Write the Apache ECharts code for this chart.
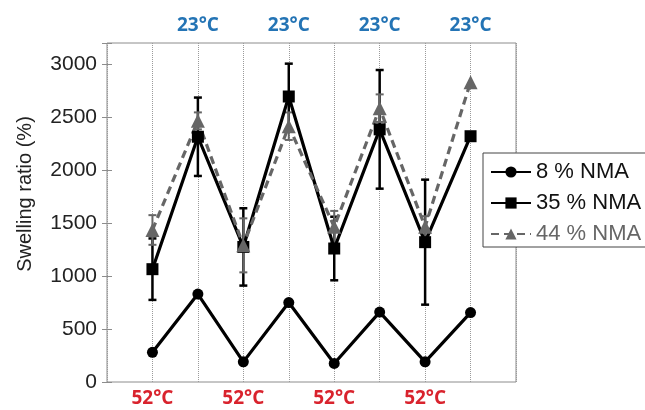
<!DOCTYPE html>
<html>
<head>
<meta charset="utf-8">
<script src="https://cdn.jsdelivr.net/npm/echarts@6/dist/echarts.min.js"></script>
<style>
  html, body { margin: 0; padding: 0; background: #fff; }
  #main { width: 645px; height: 410px; }
</style>
</head>
<body>
<div id="main"></div>
<script>
// measurement cycles, alternating temperature
var xPos  = [1, 2, 3, 4, 5, 6, 7, 8];
var temps = ['52°C', '23°C', '52°C', '23°C', '52°C', '23°C', '52°C', '23°C'];
var hot = '52°C', cold = '23°C';

var seriesNames = ['8 % NMA', '35 % NMA', '44 % NMA'];
var nma8     = [280, 830, 190, 750, 175, 660, 190, 655];
var nma35    = [1065, 2315, 1275, 2695, 1260, 2385, 1320, 2320];
var nma35Err = [290, 370, 365, 310, 300, 560, 590, 0];
var nma44    = [1435, 2465, 1290, 2415, 1465, 2585, 1465, 2830];
var nma44Err = [140, 80, 255, 130, 150, 130, 100, 0];

var yTicks = [0, 500, 1000, 1500, 2000, 2500, 3000];

var grey = '#666666';
var font = 'Liberation Sans, Arial, sans-serif';

function pts(vals) {
    return xPos.map(function (x, i) { return [x, vals[i]]; });
}
function errPts(vals, errs) {
    return xPos.map(function (x, i) { return [x, vals[i], errs[i]]; });
}
function tempLabel(which) {
    return function (v) {
        var i = xPos.indexOf(v);
        return (i >= 0 && temps[i] === which) ? temps[i] : '';
    };
}
function errorBar(color, width) {
    return function (params, api) {
        var x = api.value(0), y = api.value(1), e = api.value(2);
        if (!e) return;
        var top = api.coord([x, y + e]);
        var bot = api.coord([x, y - e]);
        var w = 4;
        var st = { stroke: color, lineWidth: width };
        return {
            type: 'group',
            children: [
                { type: 'line', shape: { x1: top[0], y1: top[1], x2: bot[0], y2: bot[1] }, style: st },
                { type: 'line', shape: { x1: top[0] - w, y1: top[1], x2: top[0] + w, y2: top[1] }, style: st },
                { type: 'line', shape: { x1: bot[0] - w, y1: bot[1], x2: bot[0] + w, y2: bot[1] }, style: st }
            ]
        };
    };
}

var option = {
    animation: false,
    backgroundColor: '#fff',
    grid: {
        left: 107, right: 129, top: 43, bottom: 28,
        show: true, borderColor: '#8c8c8c', borderWidth: 1,
        outerBoundsMode: 'none'
    },
    legend: {
        orient: 'vertical',
        left: 483, top: 153,
        padding: [8, 30, 2, 7],
        itemGap: 9,
        itemWidth: 40, itemHeight: 14,
        backgroundColor: '#fff',
        borderColor: '#444', borderWidth: 1,
        textStyle: { fontFamily: font, fontSize: 22, color: '#111' },
        data: [
            { name: seriesNames[0] },
            { name: seriesNames[1] },
            { name: seriesNames[2], textStyle: { color: grey } }
        ]
    },
    xAxis: [{
        type: 'value', min: 0, max: 9, interval: 1,
        position: 'bottom',
        axisLine: { show: false }, axisTick: { show: false },
        splitLine: { show: true, lineStyle: { type: 'dotted', color: '#9a9a9a', width: 1 } },
        axisLabel: {
            formatter: tempLabel(hot), margin: 7,
            color: '#d9232d', fontWeight: 'bold', fontSize: 19, fontFamily: 'Open Sans'
        }
    }, {
        type: 'value', min: 0, max: 9, interval: 1,
        position: 'top',
        axisLine: { show: false }, axisTick: { show: false }, splitLine: { show: false },
        axisLabel: {
            formatter: tempLabel(cold), margin: 8,
            color: '#2474b5', fontWeight: 'bold', fontSize: 19, fontFamily: 'Open Sans'
        }
    }],
    yAxis: [{
        type: 'value', min: 0, max: 3200, interval: 500,
        axisLine: { show: false },
        axisTick: { show: true, inside: true, length: 5, lineStyle: { color: '#8c8c8c' } },
        splitLine: { show: false },
        axisLabel: {
            margin: 10, color: '#222', fontSize: 21, fontFamily: font,
            formatter: function (v) { return yTicks.indexOf(v) >= 0 ? String(v) : ''; }
        }
    }, {
        type: 'value', min: 0, max: 3200, interval: 500, position: 'right',
        axisLine: { show: false },
        axisTick: { show: true, inside: true, length: 5, lineStyle: { color: '#8c8c8c' } },
        splitLine: { show: false },
        axisLabel: { show: false }
    }],
    graphic: [{
        type: 'text', x: 25, y: 194, rotation: Math.PI / 2,
        style: {
            text: 'Swelling ratio (%)', font: '20px ' + font, fill: '#222',
            textAlign: 'center', textVerticalAlign: 'middle'
        }
    }],
    series: [{
        name: seriesNames[0], type: 'line', data: pts(nma8),
        symbol: 'circle', symbolSize: 11,
        lineStyle: { color: '#000', width: 3.2 },
        itemStyle: { color: '#000' }
    }, {
        type: 'custom', data: errPts(nma35, nma35Err),
        renderItem: errorBar('#000', 2.5), silent: true
    }, {
        name: seriesNames[1], type: 'line', data: pts(nma35),
        symbol: 'rect', symbolSize: 12,
        lineStyle: { color: '#000', width: 3.2 },
        itemStyle: { color: '#000' }
    }, {
        type: 'custom', data: errPts(nma44, nma44Err),
        renderItem: errorBar(grey, 2), silent: true
    }, {
        name: seriesNames[2], type: 'line', data: pts(nma44),
        symbol: 'triangle', symbolSize: 14,
        lineStyle: { color: grey, width: 3.2, type: [8, 5] },
        itemStyle: { color: grey }
    }]
};

var chart = echarts.init(document.getElementById('main'));
chart.setOption(option);
</script>
</body>
</html>
